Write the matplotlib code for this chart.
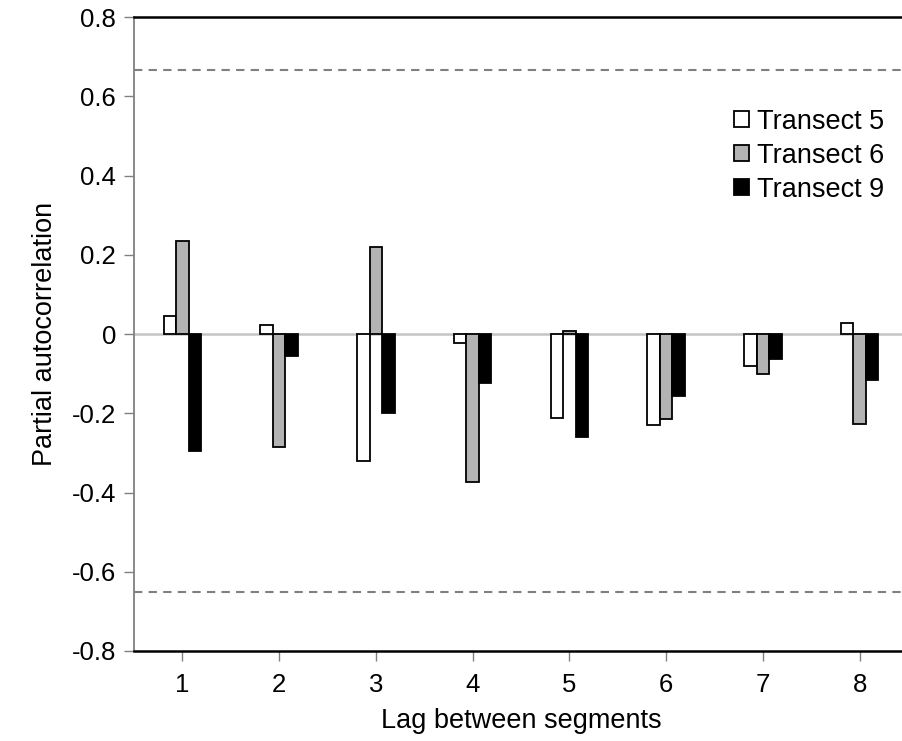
import matplotlib
matplotlib.use("Agg")
import matplotlib.pyplot as plt
import numpy as np

plt.rcParams['font.family'] = ['Liberation Sans', 'DejaVu Sans']

lags = [1, 2, 3, 4, 5, 6, 7, 8]
transect5 = [0.045, 0.022, -0.321, -0.022, -0.212, -0.229, -0.082, 0.028]
transect6 = [0.235, -0.285, 0.220, -0.374, 0.008, -0.215, -0.100, -0.226]
transect9 = [-0.295, -0.056, -0.199, -0.124, -0.261, -0.156, -0.062, -0.115]
series_names = ["Transect 5", "Transect 6", "Transect 9"]
colors = ["white", "#b3b3b3", "black"]
upper_ci = 0.666
lower_ci = -0.651

W, H = 903, 741
fig = plt.figure(figsize=(W / 100, H / 100), dpi=100)
left, right, top, bottom = 134, 908, 17, 651
ax = fig.add_axes([left / W, (H - bottom) / H, (right - left) / W, (bottom - top) / H])

x = np.array(lags, dtype=float)
bw = 0.13
for i, (vals, name, c) in enumerate(zip([transect5, transect6, transect9], series_names, colors)):
    ax.bar(x + (i - 1) * bw, vals, width=bw, color=c, edgecolor="black", linewidth=1.3,
           label=name, zorder=3)

ax.axhline(0, color="#c4c4c4", linewidth=1.8, zorder=2)
ax.axhline(upper_ci, color="#808080", linewidth=1.5, linestyle=(0, (4, 3)), zorder=1)
ax.axhline(lower_ci, color="#808080", linewidth=1.5, linestyle=(0, (4, 3)), zorder=1)

ax.set_xlim(0.5, 8.5)
ax.set_ylim(-0.8, 0.8)
ax.set_xticks(lags)
ax.set_xticklabels([str(l) for l in lags])
yt = np.arange(-0.8, 0.81, 0.2)
ax.set_yticks(yt)
ax.set_yticklabels(["0" if abs(v) < 1e-9 else f"{v:.1f}" for v in yt])

for s in ["top", "bottom"]:
    ax.spines[s].set_color("black")
    ax.spines[s].set_linewidth(1.8)
ax.spines["left"].set_color("#808080")
ax.spines["left"].set_linewidth(1.3)
ax.spines["right"].set_visible(False)

ax.tick_params(axis="both", direction="out", color="#808080", width=1.0, length=7,
               labelsize=18.5, labelcolor="black")
ax.tick_params(axis="y", pad=6)
ax.tick_params(axis="x", pad=9)

ax.set_xlabel("Lag between segments", fontsize=19.5, labelpad=8)
ax.set_ylabel("Partial autocorrelation", fontsize=19.5, labelpad=10)

fig.legend(loc="upper right", bbox_to_anchor=(898 / W, (H - 95) / H), frameon=False,
           fontsize=19.5, handlelength=0.55, handleheight=0.55, handletextpad=0.3,
           labelspacing=0.3, borderpad=0)

fig.savefig("out.png", dpi=100)
